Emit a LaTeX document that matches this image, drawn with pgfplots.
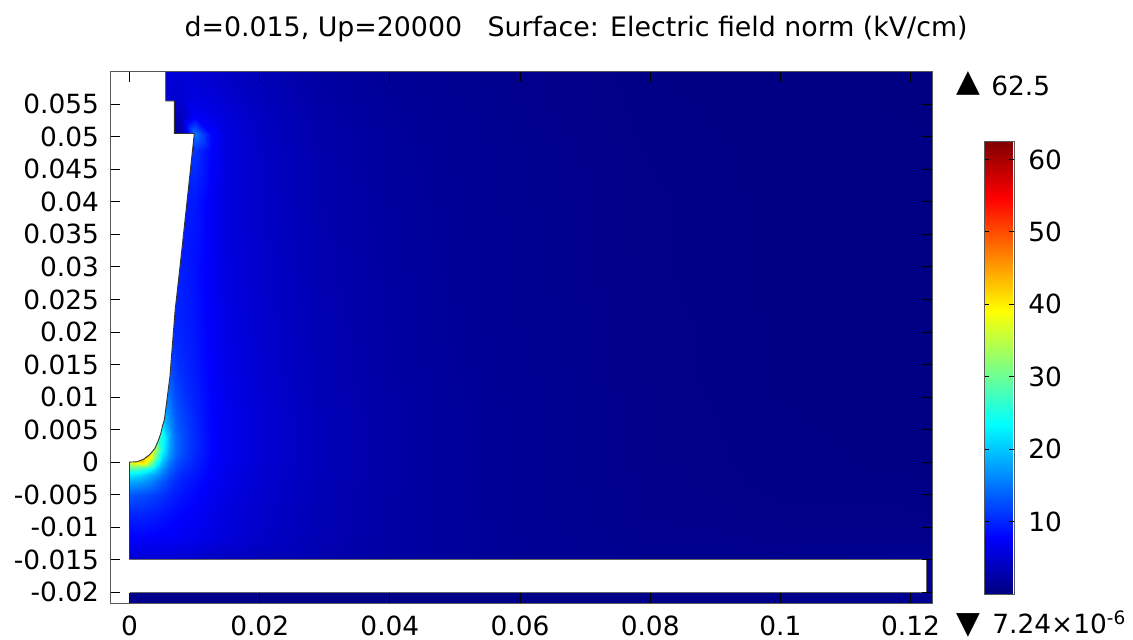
\documentclass[border=0pt]{standalone}
\usepackage{fontspec}
\setmainfont{DejaVu Sans}
\usepackage{pgfplots}
\pgfplotsset{compat=1.18}
\newcommand{\fs}{\fontsize{13.2}{16}\selectfont}
\begin{document}
\begin{tikzpicture}
\path[use as bounding box] (0,0) rectangle (566.5pt,319.5pt);
\begin{axis}[
  at={(55pt,17.85pt)}, anchor=south west,
  scale only axis, width=411pt, height=265.8pt,
  xmin=-0.003, xmax=0.1233, ymin=-0.0217, ymax=0.06,
  axis on top,
  tick align=inside, major tick length=5pt,
  tick style={black,line width=0.45pt},
  axis line style={black!65,line width=0.5pt},
  xtick={0,0.02,0.04,0.06,0.08,0.1,0.12},
  xticklabels={0,0.02,0.04,0.06,0.08,0.1,0.12},
  ytick={-0.02,-0.015,-0.01,-0.005,0,0.005,0.01,0.015,0.02,0.025,0.03,0.035,0.04,0.045,0.05,0.055},
  yticklabels={-0.02,-0.015,-0.01,-0.005,0,0.005,0.01,0.015,0.02,0.025,0.03,0.035,0.04,0.045,0.05,0.055},
  tick label style={font=\fs,black},
  xticklabel style={inner sep=0pt},
  scaled ticks=false,
  xticklabel shift=5.9pt, yticklabel shift=2pt,
  title={d=0.015, Up=20000\ \ \ Surface: Electric field norm (kV/cm)},
  title style={at={(0.567,1.043)},anchor=base,font=\fontsize{13.4}{16}\selectfont,inner sep=0pt},
  clip=true,
  colormap/jet,
  point meta min=0, point meta max=62.5,
  colorbar,
  colorbar style={
    at={(1.0633,0.869)}, anchor=north west,
    width=15.15pt, height=226.35pt,
    ytick={10,20,30,40,50,60},
    yticklabels={10,20,30,40,50,60},
    yticklabel pos=right,
    tick align=inside, major tick length=2.5pt,
    tick style={black,line width=0.4pt},
    axis line style={black!65,line width=0.5pt},
    tick label style={font=\fs,black},
    yticklabel shift=3.5pt,
  },
]
\addplot[surf, shader=interp, mesh/cols=20, mesh/rows=23, point meta=explicit]
 table[row sep=\\, x=x, y=y, meta=v] {
x y v\\
0 -0.0217 .8\\.001 -0.0217 .8\\.002 -0.0217 .8\\.003 -0.0217 .8\\.004 -0.0217 .8\\.005 -0.0217 .8\\.006 -0.0217 .8\\.007 -0.0217 .8\\.008 -0.0217 .8\\.01 -0.0217 .8\\.0125 -0.0217 .8\\.015 -0.0217 .8\\.02 -0.0217 .75\\.03 -0.0217 .7\\.04 -0.0217 .7\\.05 -0.0217 .7\\.06 -0.0217 .7\\.08 -0.0217 .7\\.1 -0.0217 .8\\.1233 -0.0217 1\\
0 -0.02 .8\\.001 -0.02 .8\\.002 -0.02 .8\\.003 -0.02 .8\\.004 -0.02 .8\\.005 -0.02 .8\\.006 -0.02 .8\\.007 -0.02 .8\\.008 -0.02 .8\\.01 -0.02 .8\\.0125 -0.02 .8\\.015 -0.02 .8\\.02 -0.02 .75\\.03 -0.02 .7\\.04 -0.02 .7\\.05 -0.02 .7\\.06 -0.02 .7\\.08 -0.02 .7\\.1 -0.02 .8\\.1233 -0.02 1\\
0 -0.015 5\\.001 -0.015 5\\.002 -0.015 5\\.003 -0.015 5\\.004 -0.015 5\\.005 -0.015 5\\.006 -0.015 5\\.007 -0.015 4.9\\.008 -0.015 4.8\\.01 -0.015 4.5\\.0125 -0.015 4.1\\.015 -0.015 3.8\\.02 -0.015 3.4\\.03 -0.015 2.7\\.04 -0.015 2.1\\.05 -0.015 1.7\\.06 -0.015 1.3\\.08 -0.015 .9\\.1 -0.015 .9\\.1233 -0.015 1.1\\
0 -0.012 7.5\\.001 -0.012 7.5\\.002 -0.012 7.5\\.003 -0.012 7.4\\.004 -0.012 7.3\\.005 -0.012 7.2\\.006 -0.012 7.1\\.007 -0.012 7\\.008 -0.012 6.9\\.01 -0.012 6.5\\.0125 -0.012 5.9\\.015 -0.012 5.4\\.02 -0.012 4.4\\.03 -0.012 3\\.04 -0.012 2.2\\.05 -0.012 1.7\\.06 -0.012 1.3\\.08 -0.012 .8\\.1 -0.012 .7\\.1233 -0.012 .7\\
0 -0.008 10\\.001 -0.008 10\\.002 -0.008 9.9\\.003 -0.008 9.7\\.004 -0.008 9.4\\.005 -0.008 9\\.006 -0.008 8.6\\.007 -0.008 8.2\\.008 -0.008 7.8\\.01 -0.008 7.3\\.0125 -0.008 6.5\\.015 -0.008 5.7\\.02 -0.008 4.6\\.03 -0.008 3.1\\.04 -0.008 2.2\\.05 -0.008 1.7\\.06 -0.008 1.2\\.08 -0.008 .7\\.1 -0.008 .5\\.1233 -0.008 .5\\
0 -0.005 13\\.001 -0.005 12.8\\.002 -0.005 12.5\\.003 -0.005 12\\.004 -0.005 11.5\\.005 -0.005 10.8\\.006 -0.005 10\\.007 -0.005 9.4\\.008 -0.005 8.9\\.01 -0.005 8\\.0125 -0.005 6.9\\.015 -0.005 6\\.02 -0.005 4.8\\.03 -0.005 3.2\\.04 -0.005 2.2\\.05 -0.005 1.7\\.06 -0.005 1.2\\.08 -0.005 .7\\.1 -0.005 .45\\.1233 -0.005 .4\\
0 -0.003 18\\.001 -0.003 17.5\\.002 -0.003 17\\.003 -0.003 16\\.004 -0.003 14.5\\.005 -0.003 13\\.006 -0.003 11.5\\.007 -0.003 10.5\\.008 -0.003 9.6\\.01 -0.003 8.6\\.0125 -0.003 7.3\\.015 -0.003 6.3\\.02 -0.003 4.9\\.03 -0.003 3.2\\.04 -0.003 2.3\\.05 -0.003 1.7\\.06 -0.003 1.2\\.08 -0.003 .65\\.1 -0.003 .4\\.1233 -0.003 .35\\
0 -0.002 22\\.001 -0.002 21.5\\.002 -0.002 20.5\\.003 -0.002 19\\.004 -0.002 17\\.005 -0.002 15\\.006 -0.002 12.8\\.007 -0.002 11.3\\.008 -0.002 10\\.01 -0.002 9\\.0125 -0.002 7.5\\.015 -0.002 6.4\\.02 -0.002 5\\.03 -0.002 3.4\\.04 -0.002 2.3\\.05 -0.002 1.7\\.06 -0.002 1.2\\.08 -0.002 .65\\.1 -0.002 .4\\.1233 -0.002 .33\\
0 -0.001 28\\.001 -0.001 27.5\\.002 -0.001 26\\.003 -0.001 24\\.004 -0.001 20.5\\.005 -0.001 17\\.006 -0.001 14\\.007 -0.001 12.2\\.008 -0.001 10.8\\.01 -0.001 9.4\\.0125 -0.001 7.7\\.015 -0.001 6.5\\.02 -0.001 5\\.03 -0.001 3.4\\.04 -0.001 2.3\\.05 -0.001 1.7\\.06 -0.001 1.2\\.08 -0.001 .65\\.1 -0.001 .4\\.1233 -0.001 .3\\
0 0 38\\.001 0 40\\.002 0 42\\.003 0 35\\.004 0 25\\.005 0 19.5\\.006 0 15.5\\.007 0 13\\.008 0 11.5\\.01 0 9.8\\.0125 0 7.8\\.015 0 6.6\\.02 0 5.2\\.03 0 3.4\\.04 0 2.3\\.05 0 1.7\\.06 0 1.2\\.08 0 .6\\.1 0 .38\\.1233 0 .3\\
0 0.001 45\\.001 0.001 45\\.002 0.001 45\\.003 0.001 42\\.004 0.001 30\\.005 0.001 22\\.006 0.001 17\\.007 0.001 14\\.008 0.001 12.2\\.01 0.001 10\\.0125 0.001 8\\.015 0.001 6.7\\.02 0.001 5.2\\.03 0.001 3.4\\.04 0.001 2.3\\.05 0.001 1.7\\.06 0.001 1.2\\.08 0.001 .6\\.1 0.001 .38\\.1233 0.001 .3\\
0 0.002 40\\.001 0.002 40\\.002 0.002 40\\.003 0.002 40\\.004 0.002 33\\.005 0.002 24\\.006 0.002 18\\.007 0.002 14.5\\.008 0.002 12.5\\.01 0.002 10.3\\.0125 0.002 8\\.015 0.002 6.7\\.02 0.002 5.2\\.03 0.002 3.4\\.04 0.002 2.3\\.05 0.002 1.7\\.06 0.002 1.2\\.08 0.002 .6\\.1 0.002 .37\\.1233 0.002 .3\\
0 0.004 28\\.001 0.004 28\\.002 0.004 28\\.003 0.004 28\\.004 0.004 28\\.005 0.004 25\\.006 0.004 18.5\\.007 0.004 14.5\\.008 0.004 12.5\\.01 0.004 10.3\\.0125 0.004 8\\.015 0.004 6.7\\.02 0.004 5.2\\.03 0.004 3.4\\.04 0.004 2.3\\.05 0.004 1.7\\.06 0.004 1.2\\.08 0.004 .6\\.1 0.004 .36\\.1233 0.004 .3\\
0 0.007 20\\.001 0.007 20\\.002 0.007 20\\.003 0.007 20\\.004 0.007 20\\.005 0.007 20\\.006 0.007 16.5\\.007 0.007 13.5\\.008 0.007 12\\.01 0.007 10\\.0125 0.007 8\\.015 0.007 6.7\\.02 0.007 5.2\\.03 0.007 3.4\\.04 0.007 2.3\\.05 0.007 1.7\\.06 0.007 1.2\\.08 0.007 .6\\.1 0.007 .35\\.1233 0.007 .28\\
0 0.012 14\\.001 0.012 14\\.002 0.012 14\\.003 0.012 14\\.004 0.012 14\\.005 0.012 14\\.006 0.012 14\\.007 0.012 12\\.008 0.012 10.8\\.01 0.012 9.5\\.0125 0.012 7.7\\.015 0.012 6.5\\.02 0.012 5\\.03 0.012 3.2\\.04 0.012 2.2\\.05 0.012 1.6\\.06 0.012 1.2\\.08 0.012 .55\\.1 0.012 .33\\.1233 0.012 .27\\
0 0.02 11\\.001 0.02 11\\.002 0.02 11\\.003 0.02 11\\.004 0.02 11\\.005 0.02 11\\.006 0.02 11\\.007 0.02 10.2\\.008 0.02 9.8\\.01 0.02 9\\.0125 0.02 7.4\\.015 0.02 6.2\\.02 0.02 4.8\\.03 0.02 3.1\\.04 0.02 2.1\\.05 0.02 1.5\\.06 0.02 1.1\\.08 0.02 .55\\.1 0.02 .32\\.1233 0.02 .25\\
0 0.03 10\\.001 0.03 10\\.002 0.03 10\\.003 0.03 10\\.004 0.03 10\\.005 0.03 10\\.006 0.03 10\\.007 0.03 10\\.008 0.03 9.5\\.01 0.03 8.7\\.0125 0.03 7.2\\.015 0.03 5.9\\.02 0.03 4.6\\.03 0.03 2.9\\.04 0.03 2\\.05 0.03 1.45\\.06 0.03 1.05\\.08 0.03 .5\\.1 0.03 .3\\.1233 0.03 .25\\
0 0.04 9.5\\.001 0.04 9.5\\.002 0.04 9.5\\.003 0.04 9.5\\.004 0.04 9.5\\.005 0.04 9.5\\.006 0.04 9.5\\.007 0.04 9.5\\.008 0.04 9.5\\.01 0.04 9.2\\.0125 0.04 7.2\\.015 0.04 5.7\\.02 0.04 4.4\\.03 0.04 2.7\\.04 0.04 1.85\\.05 0.04 1.35\\.06 0.04 1\\.08 0.04 .5\\.1 0.04 .3\\.1233 0.04 .25\\
0 0.048 11\\.001 0.048 11\\.002 0.048 11\\.003 0.048 11\\.004 0.048 11\\.005 0.048 11\\.006 0.048 11\\.007 0.048 11\\.008 0.048 11\\.01 0.048 11\\.0125 0.048 7.8\\.015 0.048 5.8\\.02 0.048 4.3\\.03 0.048 2.6\\.04 0.048 1.75\\.05 0.048 1.25\\.06 0.048 .95\\.08 0.048 .45\\.1 0.048 .3\\.1233 0.048 .25\\
0 0.0505 1.5\\.001 0.0505 1.5\\.002 0.0505 1.5\\.003 0.0505 1.5\\.004 0.0505 1.5\\.005 0.0505 1.5\\.006 0.0505 1.5\\.007 0.0505 1.5\\.008 0.0505 3\\.01 0.0505 15\\.0125 0.0505 8\\.015 0.0505 5.8\\.02 0.0505 4.1\\.03 0.0505 2.5\\.04 0.0505 1.7\\.05 0.0505 1.25\\.06 0.0505 .9\\.08 0.0505 .42\\.1 0.0505 .28\\.1233 0.0505 .22\\
0 0.053 3\\.001 0.053 3\\.002 0.053 3\\.003 0.053 3\\.004 0.053 3\\.005 0.053 3\\.006 0.053 3\\.007 0.053 3\\.008 0.053 4\\.01 0.053 7.5\\.0125 0.053 6.5\\.015 0.053 5.5\\.02 0.053 4\\.03 0.053 2.4\\.04 0.053 1.6\\.05 0.053 1.2\\.06 0.053 .85\\.08 0.053 .4\\.1 0.053 .27\\.1233 0.053 .2\\
0 0.056 5\\.001 0.056 5\\.002 0.056 5\\.003 0.056 5\\.004 0.056 5\\.005 0.056 5\\.006 0.056 5\\.007 0.056 5\\.008 0.056 5\\.01 0.056 6\\.0125 0.056 5.6\\.015 0.056 4.9\\.02 0.056 3.7\\.03 0.056 2.2\\.04 0.056 1.5\\.05 0.056 1.1\\.06 0.056 .8\\.08 0.056 .38\\.1 0.056 .25\\.1233 0.056 .2\\
0 0.06 5.5\\.001 0.06 5.5\\.002 0.06 5.5\\.003 0.06 5.5\\.004 0.06 5.5\\.005 0.06 5.5\\.006 0.06 5.5\\.007 0.06 5.5\\.008 0.06 5.3\\.01 0.06 5\\.0125 0.06 4.7\\.015 0.06 4.2\\.02 0.06 3.4\\.03 0.06 2\\.04 0.06 1.4\\.05 0.06 1.05\\.06 0.06 .8\\.08 0.06 .35\\.1 0.06 .25\\.1233 0.06 .2\\
};
% white: the electrode and everything to the left of the domain
\addplot[fill=white, draw=none, forget plot] coordinates {
 (-0.003,-0.0217) (0,-0.0217) (0,0) (0.0011,0.00005) (0.0021,0.0004) (0.00315,0.0012) (0.0039,0.0021) (0.00442,0.0033)
 (0.0048,0.0044) (0.0051,0.0057) (0.00535,0.0065) (0.0062,0.0131) (0.007,0.0233) (0.00786,0.031) (0.00995,0.0505) (0.0069,0.0505) (0.0069,0.0555)
 (0.00556,0.0555) (0.00556,0.06) (-0.003,0.06)} -- cycle;
% outline of the domain
\addplot[black!80, line width=0.45pt, forget plot] coordinates {
 (0,-0.015) (0,0) (0.0011,0.00005) (0.0021,0.0004) (0.00315,0.0012) (0.0039,0.0021) (0.00442,0.0033)
 (0.0048,0.0044) (0.0051,0.0057) (0.00535,0.0065) (0.0062,0.0131) (0.007,0.0233) (0.00786,0.031) (0.00995,0.0505) (0.0069,0.0505) (0.0069,0.0555)
 (0.00556,0.0555) (0.00556,0.06)};
% white gap
\addplot[fill=white, draw=none, forget plot] coordinates {
 (-0.003,-0.02) (0.1224,-0.02) (0.1224,-0.015) (-0.003,-0.015)} -- cycle;
\addplot[black!60, line width=0.4pt, forget plot] coordinates {
 (0,-0.015) (0.1224,-0.015) (0.1224,-0.02) (0,-0.02)};
\end{axis}
\node[font=\fontsize{15.5}{18}\selectfont, inner sep=0pt, black] at (484pt,278pt) {▲};
\node[font=\fs, anchor=base west, inner sep=0pt, black] at (495.5pt,272pt) {62.5};
\node[font=\fontsize{15.5}{18}\selectfont, inner sep=0pt, black] at (484pt,7pt) {▼};
\node[font=\fs, anchor=base west, inner sep=0pt, black] at (496pt,3pt) {7.24×10\textsuperscript{-6}};
\end{tikzpicture}
\end{document}
